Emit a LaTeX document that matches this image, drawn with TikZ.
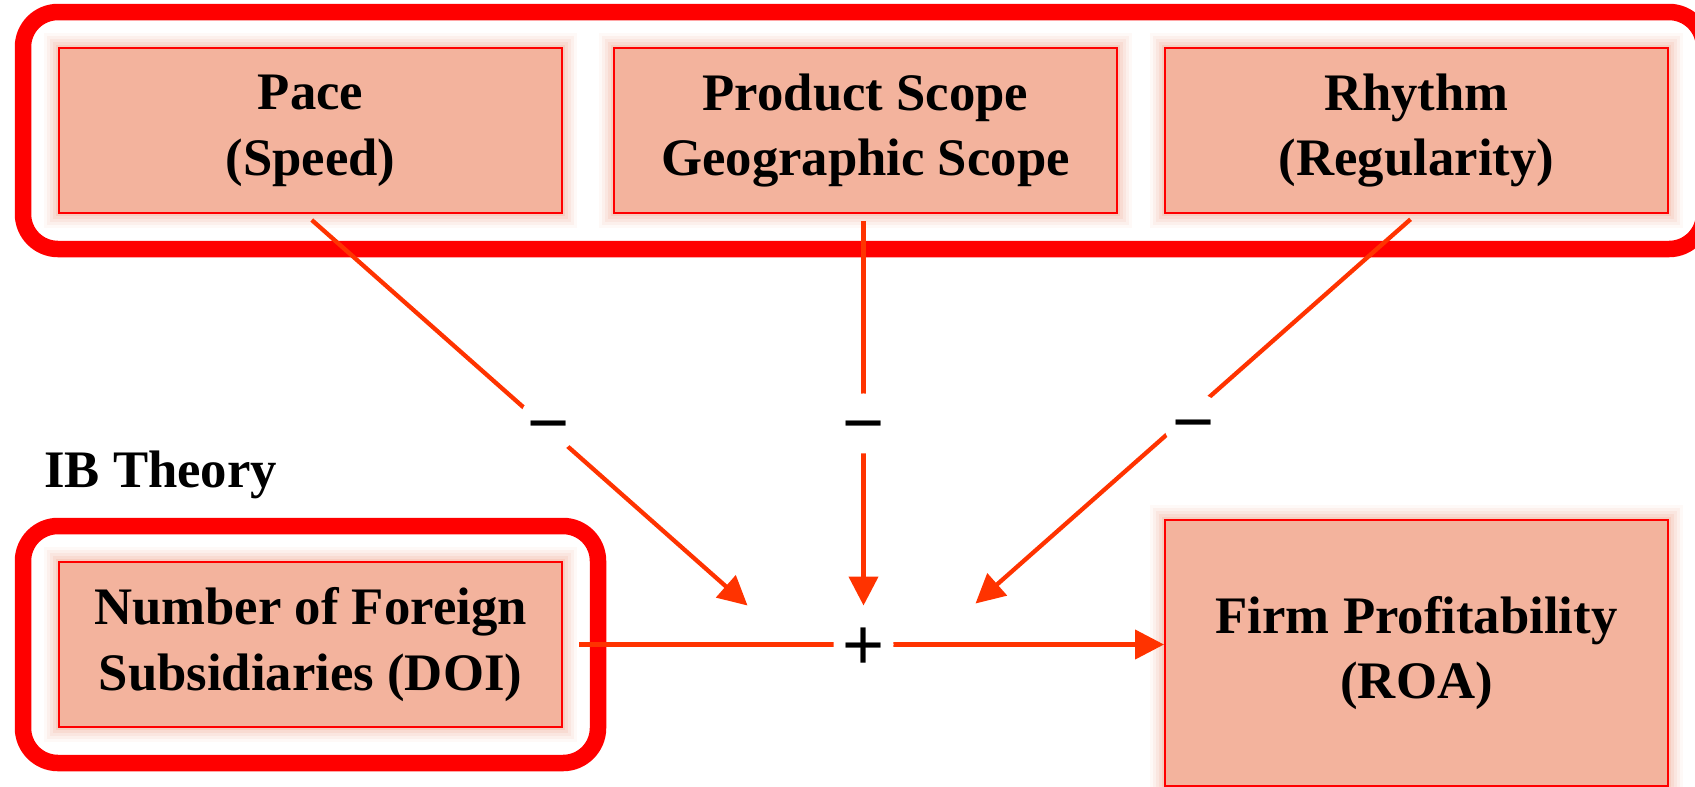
\documentclass[tikz,border=0pt]{standalone}
\usepackage{fontspec}
\setmainfont{Liberation Serif}
\newfontfamily\signfont{Liberation Sans}
\usetikzlibrary{arrows.meta,positioning,fit,calc}

\definecolor{boxfill}{RGB}{243,179,157}
\definecolor{linkred}{RGB}{255,51,0}
\newcommand{\signchar}[1]{\raisebox{-0.34em}[0pt][0pt]{#1}}

\begin{document}
\begin{tikzpicture}[
    node distance=10mm,
    glow/.style={preaction={draw=boxfill, line width=6mm, draw opacity=0.08},
                 preaction={draw=boxfill, line width=4.8mm, draw opacity=0.12},
                 preaction={draw=boxfill, line width=3.6mm, draw opacity=0.15},
                 preaction={draw=boxfill, line width=2.4mm, draw opacity=0.2},
                 preaction={draw=boxfill, line width=1.2mm, draw opacity=0.3}},
    box/.style={rectangle, draw=red, line width=0.4mm, fill=boxfill, glow, minimum width=100.6mm, minimum height=33mm, align=center, font=\fontsize{30}{37.5}\selectfont\bfseries},
    group/.style={draw=red, line width=3.3mm, rounded corners=7mm, inner sep=7mm},
    link/.style={draw=linkred, line width=0.86mm},
    arrow/.style={link, -{Triangle[length=5.8mm, width=5.8mm]}},
    sign/.style={circle, fill=white, inner sep=0pt, minimum size=12mm, font=\signfont\fontsize{41}{41}\selectfont}
]
\useasboundingbox (0,0) rectangle (33.9,-15.72);
\fill[white] (0,0) rectangle (33.9,-15.72);

% Dimensions of internationalization
\node[box] (pace) at (6.21,-2.61) {Pace\\(Speed)};
\node[box, right=10mm of pace] (product) {Product Scope\\Geographic Scope};
\node[box, right=9.2mm of product] (rhythm) {Rhythm\\(Regularity)};

% IB theory model
\node[box, below=69.4mm of pace] (doi) {Number of Foreign\\Subsidiaries (DOI)};
\node[box, minimum height=53.2mm, below=61mm of rhythm] (firm) {Firm Profitability\\(ROA)};

% Frames
\node[group, fit=(pace)(product)(rhythm)] (topgroup) {};
\node[group, fit=(doi)] (doigroup) {};

% Label
\node[anchor=base west, font=\fontsize{30}{37.5}\selectfont\bfseries] (ib) at (0.76,-9.74) {IB Theory};

% Main effect
\draw[arrow, shorten <=3.2mm] (doi.east) -- node[sign] (sum) {\signchar{+}} (doi.east -| firm.west);

% Moderating effects
\coordinate (in1) at ($(sum)+(-23.2mm,7.8mm)$);
\coordinate (in2) at ($(sum)+(0,7.8mm)$);
\coordinate (in3) at ($(sum)+(22.4mm,8.2mm)$);
\draw[arrow, shorten <=1.8mm] ([xshift=-1.1mm]pace.south) -- node[sign, pos=0.535, xshift=1.4mm] (m1) {\signchar{−}} (in1);
\draw[arrow, shorten <=1.4mm] (product.south -| sum) -- node[sign, pos=0.535] (m2) {\signchar{−}} (in2);
\draw[arrow, shorten <=1.6mm] (rhythm.south) -- node[sign, pos=0.535, xshift=2.6mm] (m3) {\signchar{−}} (in3);

\end{tikzpicture}
\end{document}
